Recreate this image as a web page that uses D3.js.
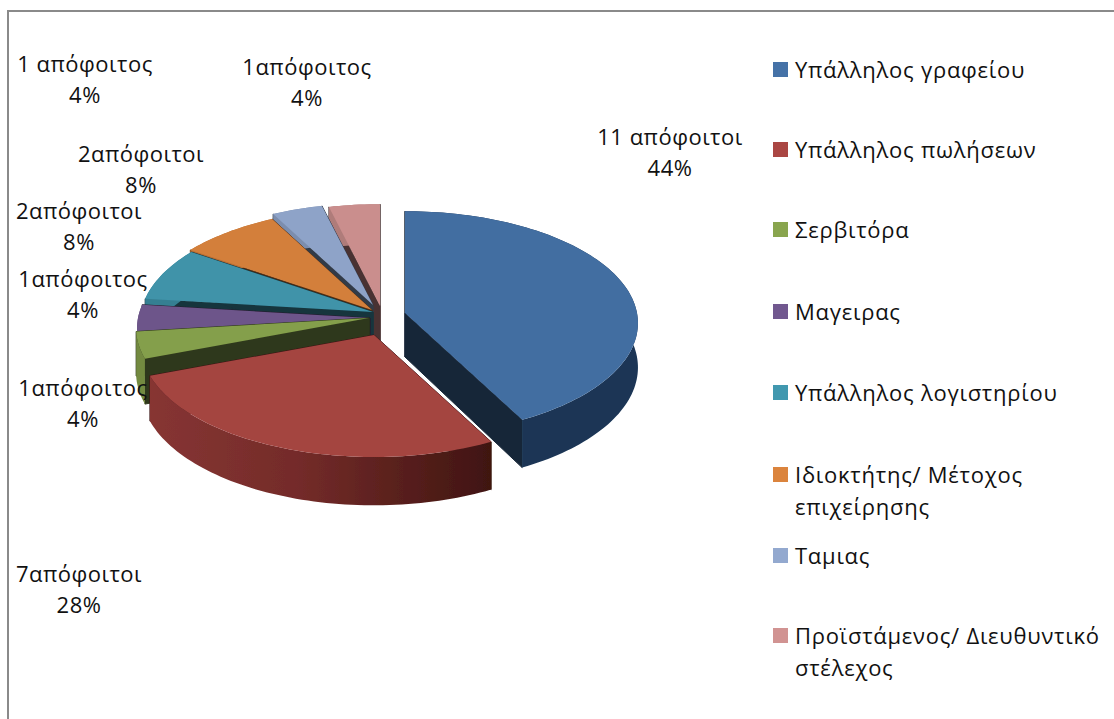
<!DOCTYPE html>
<html>
<head>
<meta charset="utf-8">
<script src="https://cdnjs.cloudflare.com/ajax/libs/d3/7.8.5/d3.min.js"></script>
<style>
  html, body { margin: 0; padding: 0; background: #fff; overflow: hidden; }
  text { font-family: "Open Sans", "Noto Sans", sans-serif; font-size: 22px; fill: #111; white-space: pre; letter-spacing: 0.5px; }
  .legendText { letter-spacing: 0.75px; }
</style>
</head>
<body>
<script>
// Data
var categories = ["Υπάλληλος γραφείου", "Υπάλληλος πωλήσεων", "Σερβιτόρα", "Μαγειρας",
  "Υπάλληλος λογιστηρίου", "Ιδιοκτήτης/ Μέτοχος|επιχείρησης", "Ταμιας",
  "Προϊστάμενος/ Διευθυντικό|στέλεχος"];
var graduates = [11, 7, 1, 1, 2, 2, 1, 1];
var countLabels = ["11 απόφοιτοι", "7απόφοιτοι", "1απόφοιτος", "1απόφοιτος",
  "2απόφοιτοι", "2απόφοιτοι", "1 απόφοιτος", "1απόφοιτος"];
var percentLabels = ["44%", "28%", "4%", "4%", "8%", "8%", "4%", "4%"];
var colors = ["#4572A7", "#AA4643", "#89A54E", "#71588F", "#4198AF", "#DB843D", "#93A9CF", "#D19392"];

// Layout
var svgWidth = 1114;
var svgHeight = 719;

// labels were hand placed in the original chart: [center x, first line baseline]
var labelSpots = [[670, 145], [79, 582], [83, 396], [83, 287], [79, 219], [141, 162], [85, 72], [307, 75]];
var legendRows = [62, 142, 222, 304, 385, 467, 548, 628];

// pie projection
var center = [377, 311];
var radiusX = 232;
var radiusY = 111;
var perspective = 0.09;
var depth = 44;
// how far each slice was pulled out of the pie
var sliceOffsets = [[28, 2], [-3, 24], [-8, 7], [-7, 7], [-4, 1], [-5, -1], [-4, -6], [3, -5]];

var svg = d3.select("body")
  .append("svg")
  .attr("width", svgWidth)
  .attr("height", svgHeight);

var defs = svg.append("defs");
defs.append("filter").attr("id", "soft")
  .append("feGaussianBlur").attr("stdDeviation", 0.6);

var redWall = defs.append("linearGradient")
  .attr("id", "redWall")
  .attr("gradientUnits", "userSpaceOnUse")
  .attr("x1", 148).attr("x2", 490).attr("y1", 0).attr("y2", 0);
redWall.append("stop").attr("offset", "0%").attr("stop-color", "#873533");
redWall.append("stop").attr("offset", "45%").attr("stop-color", "#732b29");
redWall.append("stop").attr("offset", "100%").attr("stop-color", "#401511");

// Chart frame, only top and left show in the window
svg.append("rect")
  .attr("x", 8).attr("y", 11)
  .attr("width", svgWidth + 50).attr("height", svgHeight + 50)
  .attr("fill", "#fff")
  .attr("stroke", "#8a8a8a")
  .attr("stroke-width", 2);

// Slices
var pie = d3.pie().sort(null);
var slices = pie(graduates);
var line = d3.line();

// angle is clockwise from the top, level 0 = top face, 1 = bottom face
function project(angle, radius, level, offset) {
  var x = Math.sin(angle) * radius;
  var y = -Math.cos(angle) * radius;
  var w = 1 - perspective * y;
  return [
    center[0] + offset[0] + radiusX * x / w,
    center[1] + offset[1] + radiusY * y / w + level * depth / w
  ];
}

function arcPoints(d, level, offset) {
  var steps = Math.max(4, Math.ceil((d.endAngle - d.startAngle) * 40));
  return d3.range(steps + 1).map(function(i) {
    var a = d.startAngle + (d.endAngle - d.startAngle) * i / steps;
    return project(a, 1, level, offset);
  });
}

// back to front, so the nearer slices cover the others
var drawOrder = slices.slice().sort(function(a, b) {
  var ma = (a.startAngle + a.endAngle) / 2;
  var mb = (b.startAngle + b.endAngle) / 2;
  return Math.cos(mb) - Math.cos(ma);
});

var pieGroup = svg.append("g").attr("filter", "url(#soft)");

drawOrder.forEach(function(d) {
  var offset = sliceOffsets[d.index];
  var color = colors[d.index];
  var g = pieGroup.append("g");
  var faceColor = d3.color(color).darker(3).formatHex();

  // cut faces
  [d.startAngle, d.endAngle].forEach(function(a) {
    g.append("path")
      .attr("d", line([
        project(a, 0, 0, offset), project(a, 1, 0, offset),
        project(a, 1, 1, offset), project(a, 0, 1, offset)
      ]) + "Z")
      .attr("fill", faceColor)
      .attr("stroke", faceColor)
      .attr("stroke-width", 1);
  });

  // outer wall
  var wallColor = d.index == 1 ? "url(#redWall)" : d.index == 0 ? "#1a3555" : d3.color(color).darker(0.5).formatHex();
  g.append("path")
    .attr("d", line(arcPoints(d, 0, offset).concat(arcPoints(d, 1, offset).reverse())) + "Z")
    .attr("fill", wallColor);

  // top face
  g.append("path")
    .attr("d", line([project(d.startAngle, 0, 0, offset)].concat(arcPoints(d, 0, offset))) + "Z")
    .attr("fill", d3.color(color).darker(0.1).formatHex());
});

// Data labels
var labels = svg.append("g");
countLabels.forEach(function(t, i) {
  labels.append("text")
    .attr("x", labelSpots[i][0]).attr("y", labelSpots[i][1])
    .attr("text-anchor", "middle")
    .text(t);
  labels.append("text")
    .attr("x", labelSpots[i][0]).attr("y", labelSpots[i][1] + 31)
    .attr("text-anchor", "middle")
    .text(percentLabels[i]);
});

// Legend
var legend = svg.append("g")
  .selectAll("g")
  .data(categories)
  .enter()
  .append("g")
  .attr("transform", function(d, i) { return "translate(773," + legendRows[i] + ")"; });

legend.append("rect")
  .attr("width", 15)
  .attr("height", 15)
  .attr("fill", function(d, i) { return colors[i]; });

legend.each(function(d) {
  var rows = d.split("|");
  var g = d3.select(this);
  rows.forEach(function(t, i) {
    g.append("text")
      .attr("class", "legendText")
      .attr("x", 22)
      .attr("y", 16 + i * 32)
      .text(t);
  });
});
</script>
</body>
</html>
